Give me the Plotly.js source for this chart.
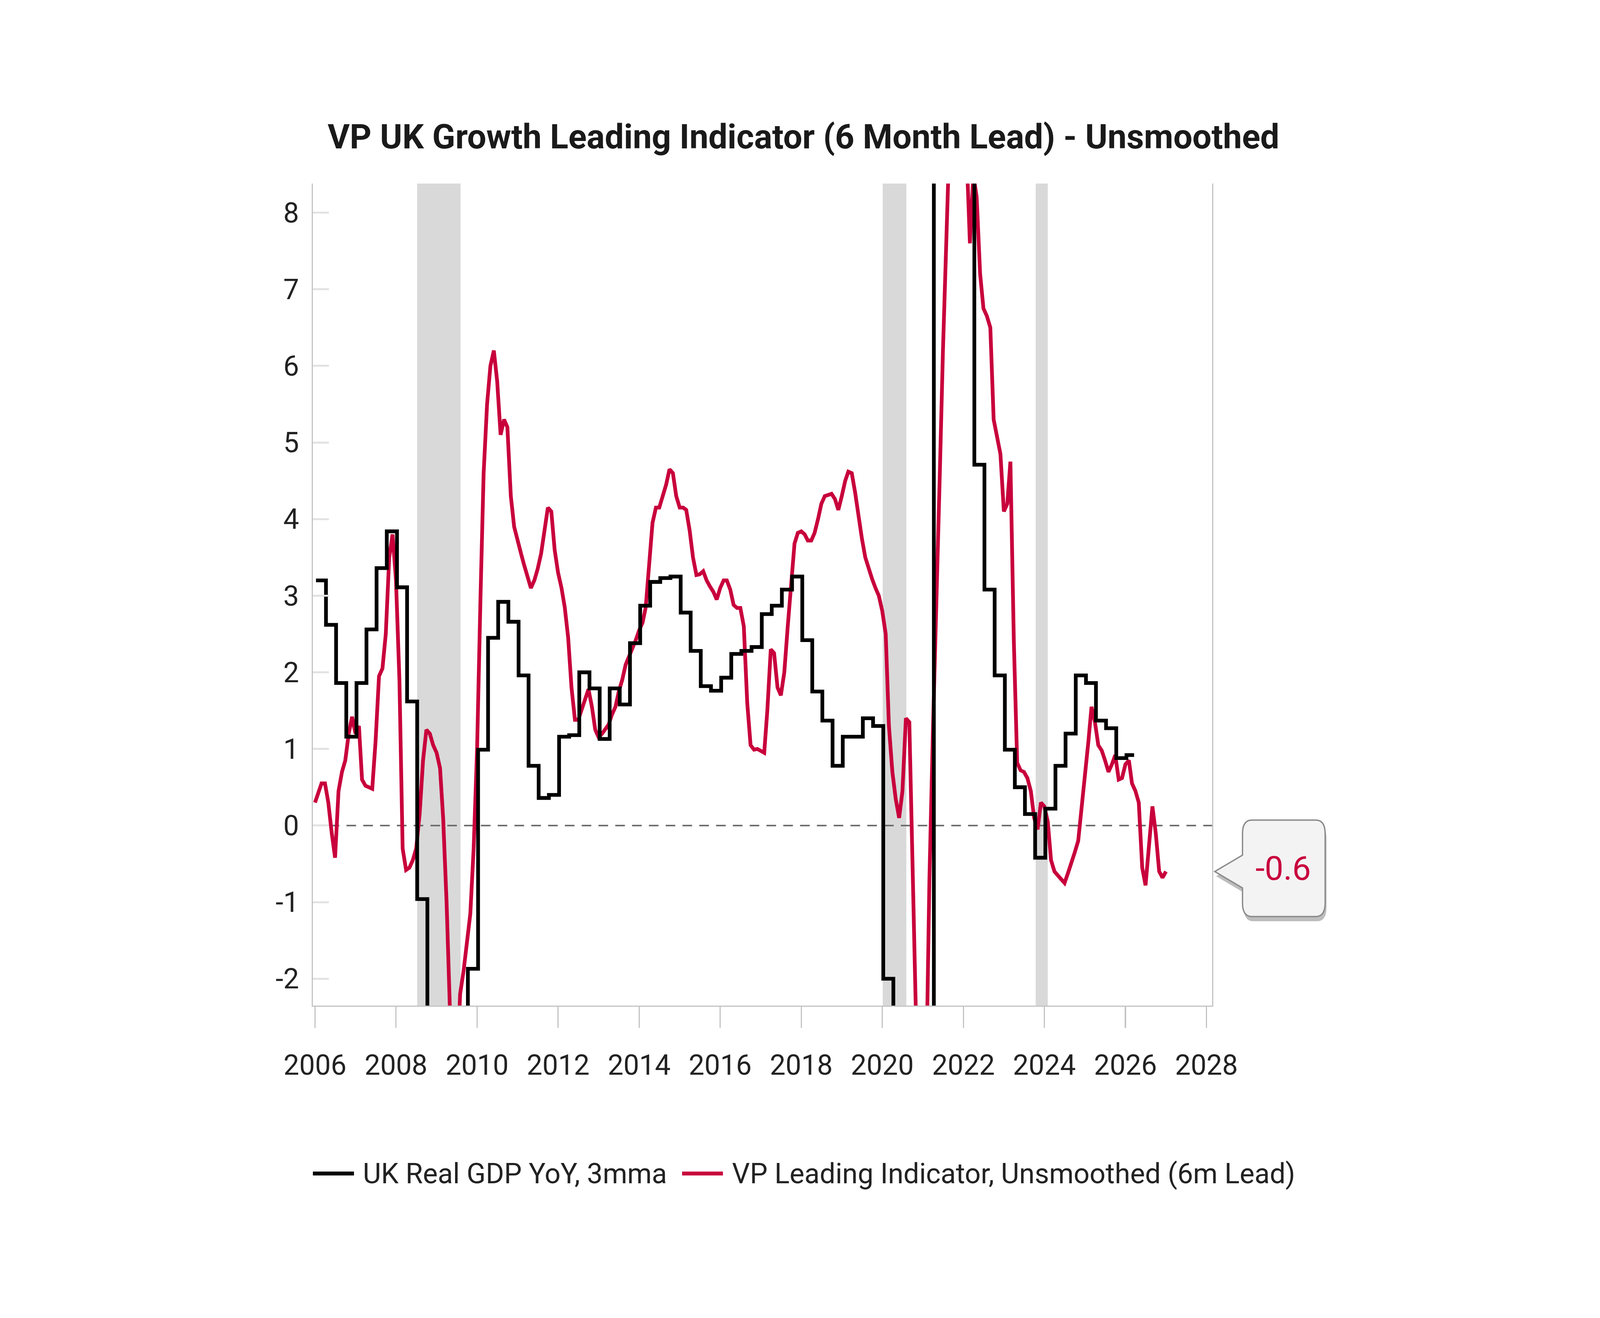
<!DOCTYPE html>
<html>
<head>
<meta charset="utf-8">
<script src="https://cdn.plot.ly/plotly-3.0.1.min.js"></script>
<style>
  html, body { margin: 0; padding: 0; background: #fff; overflow: hidden; }
</style>
</head>
<body>
<div id="chart"></div>
<script>
const COLORS = {
  gdp:      '#000000',
  lead:     '#c8003c',
  band:     '#d9d9d9',
  axis:     '#c4c4c4',
  tick:     '#e2e2e2',
  zero:     '#6e6e6e',
  text:     '#222222',
  boxFill:  '#f3f3f3',
  boxLine:  '#8a8a8a',
  boxShade: '#bdbdbd',
};
const FONT = 'Roboto, "Noto Sans", sans-serif';

// UK real GDP YoY, 3mma -- one reading per quarter, starting 2006 Q1
const gdpFirstYear = 2006;
const gdpValues = [
  3.2, 2.62, 1.86, 1.16, 1.86, 2.56, 3.36, 3.84, 3.11, 1.62,
  -0.96, -2.9, -5.3, -6.1, -4.8, -1.87, 0.99, 2.45, 2.92, 2.66,
  1.96, 0.78, 0.36, 0.4, 1.16, 1.18, 2.0, 1.79, 1.13, 1.79,
  1.58, 2.38, 2.87, 3.18, 3.23, 3.25, 2.78, 2.28, 1.82, 1.76,
  1.93, 2.24, 2.28, 2.33, 2.76, 2.87, 3.08, 3.25, 2.42, 1.75,
  1.37, 0.78, 1.16, 1.16, 1.4, 1.3, -2.0, -21.5, -8.5, -7.5,
  -5.5, 24.0, 8.9, 9.3, 10.6, 4.71, 3.08, 1.96, 0.99, 0.5,
  0.15, -0.42, 0.22, 0.78, 1.2, 1.96, 1.86, 1.37, 1.27, 0.88, 0.92,
];
const gdpLastDate = '2026-03-20';   // latest monthly print inside the last quarter

// VP leading indicator, unsmoothed, 6m lead -- monthly from Jan 2006
const leadFirstYear = 2006;
const leadValues = [
  0.3, 0.42, 0.55, 0.55, 0.3, -0.1, -0.42, 0.45, 0.7, 0.85, 1.2, 1.42,          // 2006
  1.2, 1.3, 0.6, 0.52, 0.5, 0.48, 1.1, 1.95, 2.05, 2.5, 3.5, 3.8,                // 2007
  3.2, 1.9, -0.3, -0.58, -0.55, -0.45, -0.3, 0.15, 0.85, 1.25, 1.2, 1.05,        // 2008
  0.95, 0.75, 0.1, -1.0, -2.4, -3.4, -3.3, -2.2, -1.9, -1.5, -1.15, -0.3,        // 2009
  1.0, 3.0, 4.6, 5.5, 6.0, 6.2, 5.8, 5.1, 5.3, 5.2, 4.3, 3.9,                    // 2010
  3.7, 3.55, 3.4, 3.25, 3.1, 3.2, 3.35, 3.55, 3.85, 4.15, 4.1, 3.6,              // 2011
  3.3, 3.1, 2.85, 2.45, 1.8, 1.38, 1.38, 1.5, 1.65, 1.78, 1.55, 1.25,            // 2012
  1.15, 1.2, 1.25, 1.32, 1.45, 1.55, 1.75, 1.9, 2.1, 2.2, 2.32, 2.42,            // 2013
  2.55, 2.65, 2.85, 3.4, 3.95, 4.15, 4.15, 4.3, 4.45, 4.65, 4.6, 4.3,            // 2014
  4.15, 4.15, 4.12, 3.85, 3.5, 3.27, 3.28, 3.32, 3.2, 3.12, 3.05, 2.95,          // 2015
  3.1, 3.2, 3.2, 3.08, 2.88, 2.84, 2.84, 2.6, 1.6, 1.05, 0.99, 1.0,              // 2016
  0.98, 0.95, 1.5, 2.3, 2.25, 1.8, 1.7, 2.0, 2.6, 3.2, 3.68, 3.82,               // 2017
  3.84, 3.8, 3.72, 3.72, 3.82, 4.0, 4.2, 4.3, 4.32, 4.33, 4.26, 4.12,            // 2018
  4.3, 4.5, 4.62, 4.6, 4.35, 4.0, 3.75, 3.5, 3.35, 3.22, 3.1, 3.0,               // 2019
  2.8, 2.5, 1.3, 0.7, 0.35, 0.1, 0.45, 1.4, 1.35, -0.4, -2.1, -4.5,              // 2020
  -6.5, -3.2, -0.7, 1.2, 2.7, 4.5, 6.2, 7.8, 9.5, 11.2, 12.0, 11.0,              // 2021
  9.6, 8.7, 7.6, 8.5, 8.2, 7.2, 6.75, 6.65, 6.5, 5.3, 5.05, 4.85,                // 2022
  4.1, 4.2, 4.75, 2.4, 0.82, 0.72, 0.7, 0.62, 0.45, 0.1, -0.05, 0.3,             // 2023
  0.25, 0.05, -0.45, -0.6, -0.65, -0.7, -0.75, -0.62, -0.5, -0.35, -0.2, 0.2,    // 2024
  0.65, 1.1, 1.55, 1.35, 1.05, 0.98, 0.85, 0.7, 0.8, 0.92, 0.6, 0.62,            // 2025
  0.8, 0.85, 0.55, 0.45, 0.3, -0.55, -0.78, -0.3, 0.25, -0.1, -0.6, -0.68,       // 2026
  -0.6,                                                                          // 2027
];

// grey recession bars
const recessionStart = ['2008-07-10', '2020-01-05', '2023-10-15'];
const recessionEnd   = ['2009-08-05', '2020-08-05', '2024-02-01'];

const yTickVals = [-2, -1, 0, 1, 2, 3, 4, 5, 6, 7, 8];
const xRange = ['2005-12-13', '2028-02-21'];
const yRange = [-2.35, 8.38];

const legendNames = ['UK Real GDP YoY, 3mma', 'VP Leading Indicator, Unsmoothed (6m Lead)'];
const titleText = 'VP UK Growth Leading Indicator (6 Month Lead) - Unsmoothed';

// layout is worked out on the 6000x3375 reference grid and stretched to the window
const W = window.innerWidth || 6000;
const H = window.innerHeight || 3375;
const SX = W / 6000, SY = H / 3375;
const kx = v => v * SX;     // horizontal lengths and font sizes
const ky = v => v * SY;     // vertical lengths

const chartDiv = document.getElementById('chart');
chartDiv.style.width = W + 'px';
chartDiv.style.height = H + 'px';

const PLOT = { l: 1173, r: 4546, t: 470, b: 2575 };   // plot box, reference pixels
const pw = PLOT.r - PLOT.l, ph = PLOT.b - PLOT.t;
const px = x => (x - PLOT.l) / pw;          // reference x -> paper x
const py = y => (PLOT.b - y) / ph;          // reference y -> paper y

const pad = n => String(n).padStart(2, '0');
const monthDate = (year, idx, day) =>
  `${year + Math.floor(idx / 12)}-${pad(idx % 12 + 1)}-${pad(day)}`;

const gdpDates = gdpValues.map((_, q) => monthDate(gdpFirstYear, q * 3, 10));
gdpDates.push(gdpLastDate);
const gdpY = [...gdpValues, gdpValues.at(-1)];

const leadDates = leadValues.map((_, m) => monthDate(leadFirstYear, m, 1));
const lastLead = leadValues.at(-1);

const traces = [
  {
    x: leadDates, y: leadValues,
    type: 'scatter', mode: 'lines',
    name: legendNames[1],
    line: { color: COLORS.lead, width: kx(14) },
    showlegend: false,
  },
  {
    x: gdpDates, y: gdpY,
    type: 'scatter', mode: 'lines',
    name: legendNames[0],
    line: { color: COLORS.gdp, width: kx(14), shape: 'hv' },
    showlegend: false,
  },
];

// recession shading + zero line
const shapes = recessionStart.map((s, i) => ({
  type: 'rect', xref: 'x', yref: 'paper',
  x0: s, x1: recessionEnd[i], y0: 0, y1: 1,
  fillcolor: COLORS.band, line: { width: 0 }, layer: 'below',
}));
shapes.push({
  type: 'line', xref: 'paper', yref: 'y',
  x0: 0, x1: 1, y0: 0, y1: 0,
  line: { color: COLORS.zero, width: kx(6), dash: `${kx(36)}px,${kx(27)}px` }, layer: 'below',
});

// legend drawn by hand so the line samples can be long
const legY = py(3005);
shapes.push(
  { type: 'line', xref: 'paper', yref: 'paper', x0: px(1173), x1: px(1327), y0: legY, y1: legY,
    line: { color: COLORS.gdp, width: kx(15) } },
  { type: 'line', xref: 'paper', yref: 'paper', x0: px(2558), x1: px(2711), y0: legY, y1: legY,
    line: { color: COLORS.lead, width: kx(15) } },
);

// speech-bubble callout with the latest reading
const tipRef = PLOT.b - ((lastLead - yRange[0]) / (yRange[1] - yRange[0])) * ph;
function bubblePath(dx, dy) {
  const L = 4660 + dx, R = 4970 + dx, T = 2100 + dy, B = 2347 + dy, r = 35;
  const tx = 4556 + dx, ty = tipRef + dy, n = 42;
  const P = (x, y) => `${px(x)},${py(y)}`;
  return `M${P(L + r, T)} L${P(R - r, T)} Q${P(R, T)} ${P(R, T + r)} L${P(R, B - r)} ` +
         `Q${P(R, B)} ${P(R - r, B)} L${P(L + r, B)} Q${P(L, B)} ${P(L, B - r)} ` +
         `L${P(L, ty + n)} L${P(tx, ty)} L${P(L, ty - n)} L${P(L, T + r)} Q${P(L, T)} ${P(L + r, T)} Z`;
}
shapes.push(
  { type: 'path', xref: 'paper', yref: 'paper', path: bubblePath(5, 12),
    fillcolor: COLORS.boxShade, line: { width: 0 } },
  { type: 'path', xref: 'paper', yref: 'paper', path: bubblePath(0, 0),
    fillcolor: COLORS.boxFill, line: { color: COLORS.boxLine, width: kx(5) } },
);

const annotations = [
  { xref: 'paper', yref: 'paper', x: px(1358), y: legY, xanchor: 'left', yanchor: 'middle',
    text: legendNames[0], showarrow: false, font: { family: FONT, size: kx(105), color: COLORS.text } },
  { xref: 'paper', yref: 'paper', x: px(2742), y: legY, xanchor: 'left', yanchor: 'middle',
    text: legendNames[1], showarrow: false, font: { family: FONT, size: kx(105), color: COLORS.text } },
  { xref: 'paper', yref: 'paper', x: px(4812), y: py(tipRef - 8), xanchor: 'center', yanchor: 'middle',
    text: lastLead.toFixed(1), showarrow: false, font: { family: FONT, size: kx(125), color: COLORS.lead } },
];

const layout = {
  width: W, height: H,
  margin: { l: kx(PLOT.l), r: kx(6000 - PLOT.r), t: ky(PLOT.t), b: ky(3375 - PLOT.b), pad: 0 },
  paper_bgcolor: '#fff', plot_bgcolor: '#fff',
  font: { family: FONT, color: COLORS.text },
  showlegend: false,
  title: {
    text: titleText, x: 3013 / 6000, xanchor: 'center', y: 1 - 350 / 3375, yanchor: 'middle',
    font: { family: FONT, size: kx(127), weight: 'bold', color: '#1a1a1a' },
  },
  xaxis: {
    type: 'date', range: xRange,
    tick0: '2006-01-01', dtick: 'M24', tickformat: '%Y',
    ticks: 'outside', ticklen: ky(54), tickwidth: kx(5), tickcolor: COLORS.axis,
    showline: true, linecolor: COLORS.axis, linewidth: kx(5),
    showgrid: false, zeroline: false,
    tickfont: { family: FONT, size: kx(105), color: COLORS.text },
    ticklabelstandoff: ky(34),
  },
  yaxis: {
    range: yRange,
    tickvals: yTickVals, ticktext: yTickVals.map(v => String(v) + '\u00a0'),
    ticks: 'inside', ticklen: kx(60), tickwidth: ky(5), tickcolor: COLORS.tick,
    showline: true, linecolor: COLORS.axis, linewidth: kx(5), mirror: true,
    showgrid: false, zeroline: false,
    tickfont: { family: FONT, size: kx(105), color: COLORS.text },
    ticklabelstandoff: kx(80),
  },
  shapes, annotations,
};

Plotly.newPlot(chartDiv, traces, layout, { displayModeBar: false, staticPlot: true });
</script>
</body>
</html>
